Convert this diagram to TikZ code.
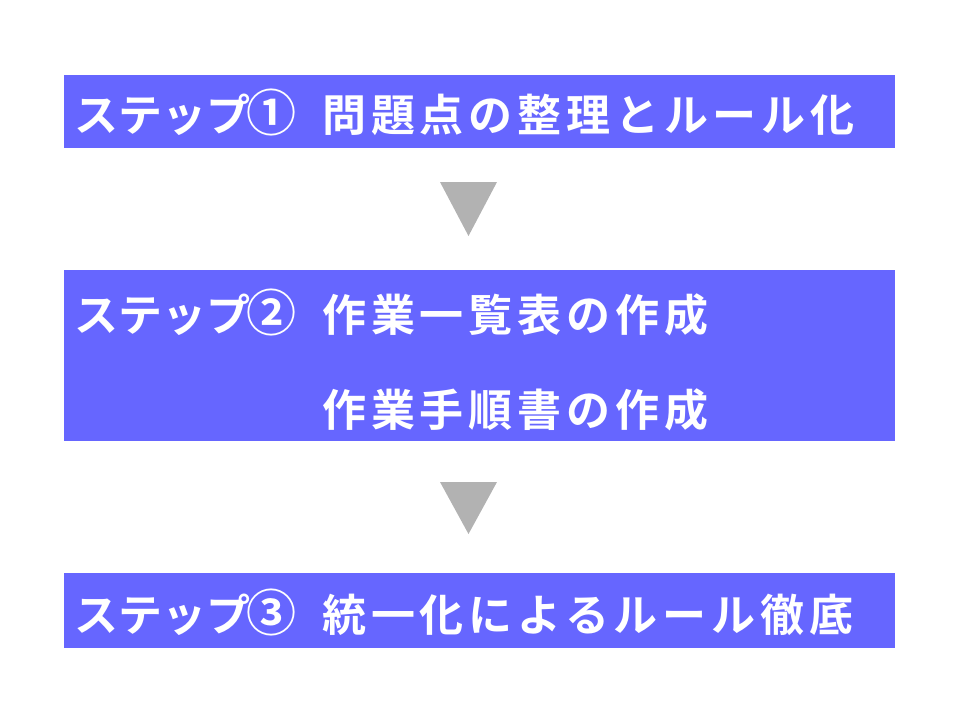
\documentclass[tikz,border=0pt]{standalone}
\usepackage{fontspec}
\newfontfamily\cjk{Noto Sans CJK JP Bold}
\newfontfamily\cjkls[LetterSpace=11]{Noto Sans CJK JP Bold}
\newcommand{\stepprefix}[1]{\makebox[174pt][l]{\cjk ステップ}\makebox[46pt]{\cjk\fontsize{50}{50}\selectfont #1}\hspace{28pt}}
\definecolor{boxblue}{HTML}{6666FF}
\definecolor{arrgray}{HTML}{B2B2B2}
\begin{document}
\begin{tikzpicture}[x=1pt,y=-1pt,
  stepbox/.style={fill=boxblue,draw=none},
  steptext/.style={anchor=west,text=white,inner sep=0pt,font=\cjkls\fontsize{44}{48}\selectfont},
  tri/.style={fill=arrgray,draw=none}]
\useasboundingbox (0,0) rectangle (960,720);
\fill[stepbox] (64,75) rectangle (895,148);
\fill[stepbox] (64,270) rectangle (895,441);
\fill[stepbox] (64,573) rectangle (895,648);
\fill[tri] (440,182) -- (497,182) -- (468.5,236) -- cycle;
\fill[tri] (440,482) -- (497,482) -- (468.5,534) -- cycle;
\node[steptext] (t1) at (74,112) {\stepprefix{①}問題点の整理とルール化};
\node[steptext] (t2) at (74,312) {\stepprefix{②}作業一覧表の作成};
\node[steptext] (t2b) at (322,410) {作業手順書の作成};
\node[steptext] (t3) at (74,612) {\stepprefix{③}統一化によるルール徹底};
\end{tikzpicture}
\end{document}
